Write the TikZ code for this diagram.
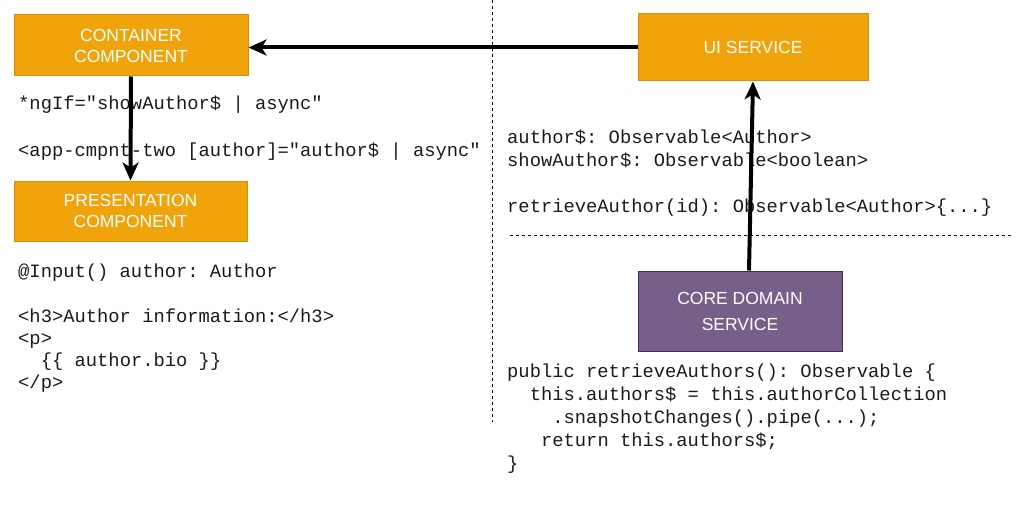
\documentclass[tikz,border=0pt]{standalone}
\usepackage{fontspec}
\setmainfont{Liberation Sans}
\newfontfamily\codefont{Liberation Mono}
\usepackage{tikz}
\usetikzlibrary{arrows.meta}

\definecolor{orangefill}{HTML}{F0A30A}
\definecolor{orangeline}{HTML}{D38F08}
\definecolor{purplefill}{HTML}{76608A}
\definecolor{purpleline}{HTML}{432D57}
\definecolor{codetext}{HTML}{1A1A1A}

\tikzset{
  compbox/.style={draw=orangeline, fill=orangefill, line width=1pt, text=white,
    align=center, inner sep=0pt, font=\fontsize{17.5}{21}\selectfont},
  corebox/.style={compbox, draw=purpleline, fill=purplefill,
    font=\fontsize{17.5}{26}\selectfont},
  code/.style={anchor=base west, inner sep=0pt, text=codetext,
    font=\codefont\fontsize{18.8}{22}\selectfont\frenchspacing},
  flow/.style={line width=4pt, -{Stealth[length=18pt,width=16pt,inset=5pt]}},
  divider/.style={line width=0.8pt, dash pattern=on 3pt off 3pt}
}

\begin{document}
\begin{tikzpicture}[x=1pt,y=-1pt]
\useasboundingbox (0,0) rectangle (1031,519);

% Separators
\draw[divider] (492,0) -- (492,422);
\draw[divider] (510,235) -- (1013,235);

% === Components (left) ===
\node[compbox, minimum width=234pt, minimum height=61pt] (container) at (131,45.5) {CONTAINER\\COMPONENT};
\node[compbox, minimum width=233pt, minimum height=60pt] (presentation) at (130.5,211) {PRESENTATION\\COMPONENT};

% === Services (right) ===
\node[compbox, minimum width=230pt, minimum height=67pt] (uiservice) at (753,47.5) {UI SERVICE};
\node[corebox, minimum width=204pt, minimum height=80pt] (coreservice) at (740,311) {CORE DOMAIN\\SERVICE};

% Template code
\node[code] (ngif) at (18,109) {*ngIf="showAuthor\$ | async"};
\node[code] (tag) at (18,156) {<app-cmpnt-two [author]="author\$ | async"};
\node[code] (input) at (18,277) {@Input() author: Author};
\node[code] (h3) at (18,322) {<h3>Author information:</h3>};
\node[code] (popen) at (18,344) {<p>};
\node[code] (bio) at (40.6,366) {\{\{ author.bio \}\}};
\node[code] (pclose) at (18,388) {</p>};

% UI service code
\node[code] (authorobs) at (507,143) {author\$: Observable<Author>};
\node[code] (showobs) at (507,166) {showAuthor\$: Observable<boolean>};
\node[code] (retrieve) at (507,212) {retrieveAuthor(id): Observable<Author>\{...\}};

% Core domain code
\node[code] (pub) at (507,377) {public retrieveAuthors(): Observable \{};
\node[code] (assign) at (529.6,400) {this.authors\$ = this.authorCollection};
\node[code] (snap) at (552.2,423) {.snapshotChanges().pipe(...);};
\node[code] (ret) at (540.9,446) {return this.authors\$;};
\node[code] (brace) at (507,469) {\}};

% Arrows
\draw[flow] (uiservice.west) -- (uiservice.west -| container.east);
\draw[flow] (container.south) -- (presentation.north);
\draw[flow] ([xshift=9pt]coreservice.north) -- (uiservice.south);
\end{tikzpicture}
\end{document}
